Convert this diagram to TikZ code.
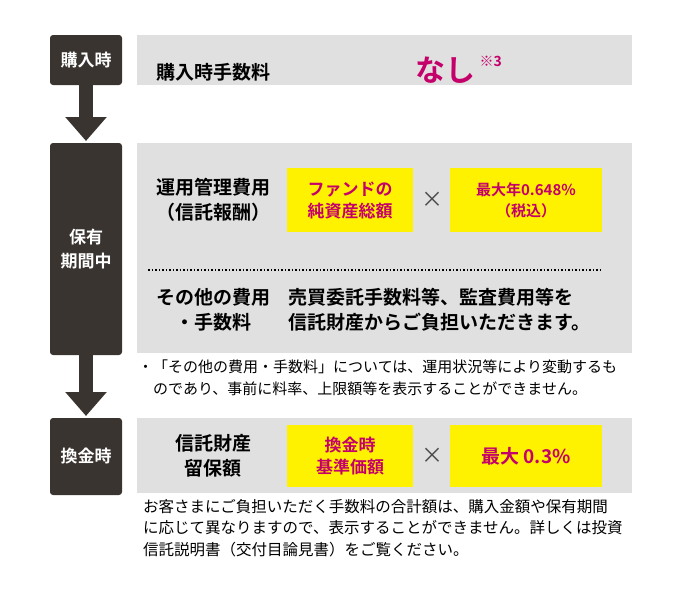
\documentclass[tikz,border=0pt]{standalone}
\usepackage{fontspec}
\setmainfont{Noto Sans CJK JP}
\newfontfamily\jpbold{Noto Sans CJK JP Bold}
\usetikzlibrary{arrows.meta,positioning}
\definecolor{Darkbox}{HTML}{3A3431}
\definecolor{Panelgray}{HTML}{E0E0E0}
\definecolor{Yelo}{HTML}{FFF200}
\definecolor{Magen}{HTML}{C4006A}
\tikzset{
  stage/.style={fill=Darkbox, rounded corners=3pt, text=white, font=\jpbold\fontsize{17}{24}\selectfont, align=center},
  panel/.style={fill=Panelgray},
  ybox/.style={fill=Yelo, text=Magen, font=\jpbold\fontsize{17}{22}\selectfont, align=center},
  label/.style={font=\jpbold\fontsize{19}{25}\selectfont, align=center},
  note/.style={font=\fontsize{15}{21.5}\selectfont, align=left, anchor=north west, inner sep=0pt},
  flow/.style={Darkbox, line width=14pt, -{Triangle[width=40pt,length=24pt]}},
}
\begin{document}
\begin{tikzpicture}[x=1pt,y=-1pt]
\useasboundingbox (0,0) rectangle (680,600);
% stages
\fill[stage] (50,35) rectangle (122,85);
\node[stage] (buy) at (86,60) {購入時};
\fill[stage] (50,143) rectangle (122,355);
\node[stage] (hold) at (86,249) {保有\\期間中};
\fill[stage] (50,418) rectangle (122,495);
\node[stage] (sell) at (86,456) {換金時};
\coordinate (b1) at (86,85);
\coordinate (h0) at (86,141);
\coordinate (h1) at (86,355);
\coordinate (s0) at (86,416);
\draw[flow] (b1) -- (h0);
\draw[flow] (h1) -- (s0);
% panels
\fill[panel] (137,35) rectangle (632,85);
\fill[panel] (137,143) rectangle (632,353);
\fill[panel] (137,418) rectangle (632,493);
% purchase
\node[label] (fee) at (213,72) {購入時手数料};
\node[text=Magen, font=\jpbold\fontsize{30}{32}\selectfont] (none) at (445,70) {なし};
\node[text=Magen, font=\jpbold\fontsize{14}{14}\selectfont, anchor=west, inner sep=1pt] (n3) at ([yshift=9pt]none.east) {※3};
% holding
\node[label] (mgmt) at (213,200) {運用管理費用\\（信託報酬）};
\fill[ybox] (287,168) rectangle (413,232);
\node[ybox] (nav) at (350,200) {ファンドの\\純資産総額};
\node[font=\fontsize{22}{22}\selectfont, text=black!70] (x1) at (432,200) {×};
\fill[ybox] (450,168) rectangle (602,232);
\node[ybox, font=\jpbold\fontsize{15}{21}\selectfont] (rate) at (526,200) {最大年0.648\%\\（税込）};
\draw[dotted, line width=1.5pt] (148,270) -- (602,270);
\node[label] (other) at (213,310) {その他の費用\\・手数料};
\node[label, align=left, anchor=west, inner sep=0pt] (otxt) at (288,310) {売買委託手数料等、監査費用等を\\信託財産からご負担いただきます。};
\node[note] (n1) at (138,360) {・「その他の費用・手数料」については、運用状況等により変動するも\\\hspace{1em}のであり、事前に料率、上限額等を表示することができません。};
% redemption
\node[label] (keep) at (213,456) {信託財産\\留保額};
\fill[ybox] (287,425) rectangle (413,487);
\node[ybox] (base) at (350,456) {換金時\\基準価額};
\node[font=\fontsize{22}{22}\selectfont, text=black!70] (x2) at (432,456) {×};
\fill[ybox] (450,425) rectangle (602,487);
\node[ybox, font=\jpbold\fontsize{19}{22}\selectfont] (max) at (526,456) {最大 0.3\%};
\node[note, font=\fontsize{15.5}{21.5}\selectfont] (n2) at (143,499) {お客さまにご負担いただく手数料の合計額は、購入金額や保有期間\\に応じて異なりますので、表示することができません。詳しくは投資\\信託説明書（交付目論見書）をご覧ください。};
\end{tikzpicture}
\end{document}
